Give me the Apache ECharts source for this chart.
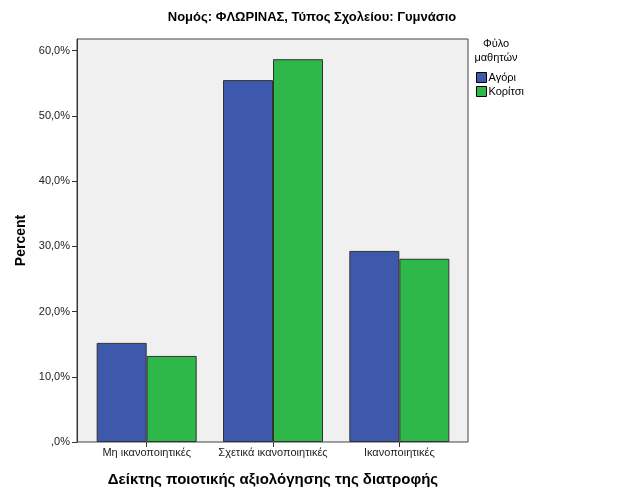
<!DOCTYPE html>
<html>
<head>
<meta charset="utf-8">
<script src="https://cdn.jsdelivr.net/npm/echarts@6/dist/echarts.min.js"></script>
<style>html,body{margin:0;padding:0;background:#fff}#c{width:626px;height:501px}</style>
</head>
<body>
<div id="c"></div>
<script>
var categories = ['Μη ικανοποιητικές', 'Σχετικά ικανοποιητικές', 'Ικανοποιητικές'];
var seriesNames = ['Αγόρι', 'Κορίτσι'];
var boys = [15.2, 55.5, 29.3];
var girls = [13.2, 58.7, 28.1];
var yTicks = [0, 10, 20, 30, 40, 50, 60];

var chart = echarts.init(document.getElementById('c'), null, {renderer: 'canvas'});
var font = 'Liberation Sans, Arial, sans-serif';
var yMax = 61.8;
function fmt(v) {
  if (v === 0) return ',0%';
  return v.toFixed(1).replace('.', ',') + '%';
}
chart.setOption({
  animation: false,
  backgroundColor: '#ffffff',
  title: [{
    text: 'Νομός: ΦΛΩΡΙΝΑΣ, Τύπος Σχολείου: Γυμνάσιο',
    left: 312, top: 11, textAlign: 'center', padding: 0,
    textStyle: {fontFamily: font, fontSize: 13, fontWeight: 'bold', color: '#000'}
  }, {
    text: 'Φύλο\nμαθητών',
    left: 496, top: 37, textAlign: 'center', padding: 0,
    textStyle: {fontFamily: font, fontSize: 11, fontWeight: 'normal', color: '#000', lineHeight: 14}
  }],
  legend: {
    data: seriesNames,
    orient: 'vertical',
    left: 476, top: 72, padding: 0,
    itemWidth: 10, itemHeight: 10, itemGap: 3,
    icon: 'rect',
    textStyle: {fontFamily: font, fontSize: 11, color: '#000', padding: [0, 0, 0, -3]},
    itemStyle: {borderColor: '#000', borderWidth: 1}
  },
  grid: [{
    left: 77, top: 39, right: 158, bottom: 59,
    show: true, backgroundColor: '#f0f0f0', borderColor: '#444', borderWidth: 1
  }, {
    left: 83.5, top: 39, right: 163.5, bottom: 59
  }],
  xAxis: [{
    gridIndex: 0, type: 'category', data: categories, show: false
  }, {
    gridIndex: 1,
    type: 'category',
    data: categories,
    name: 'Δείκτης ποιοτικής αξιολόγησης της διατροφής',
    nameLocation: 'middle', nameGap: 30,
    nameTextStyle: {fontFamily: font, fontSize: 15, fontWeight: 'bold', color: '#000'},
    axisLine: {show: false},
    axisTick: {show: true, alignWithLabel: true, length: 5, lineStyle: {color: '#333'}},
    axisLabel: {fontFamily: font, fontSize: 11, color: '#222', margin: 5, interval: 0}
  }],
  yAxis: [{
    gridIndex: 0,
    type: 'value',
    min: 0, max: yMax, interval: 10,
    name: 'Percent',
    nameLocation: 'middle', nameGap: 48, nameRotate: 90,
    nameTextStyle: {fontFamily: font, fontSize: 14, fontWeight: 'bold', color: '#000'},
    axisLine: {show: true, lineStyle: {color: '#333', width: 1}},
    axisTick: {show: true, length: 5, lineStyle: {color: '#333'}},
    splitLine: {show: false},
    axisLabel: {
      fontFamily: font, fontSize: 11, color: '#222', margin: 7,
      showMaxLabel: false,
      formatter: function (v) { return yTicks.indexOf(v) >= 0 ? fmt(v) : ''; }
    }
  }, {
    gridIndex: 1, type: 'value', min: 0, max: yMax, interval: 10, show: false,
    splitLine: {show: false}
  }],
  series: [{
    name: seriesNames[0], type: 'bar', data: boys,
    xAxisIndex: 1, yAxisIndex: 1,
    barWidth: 50, barGap: '0%',
    itemStyle: {color: '#3e58ac', borderColor: '#333', borderWidth: 1}
  }, {
    name: seriesNames[1], type: 'bar', data: girls,
    xAxisIndex: 1, yAxisIndex: 1,
    barWidth: 50, barGap: '0%',
    itemStyle: {color: '#2fb84a', borderColor: '#333', borderWidth: 1}
  }]
});
</script>
</body>
</html>
